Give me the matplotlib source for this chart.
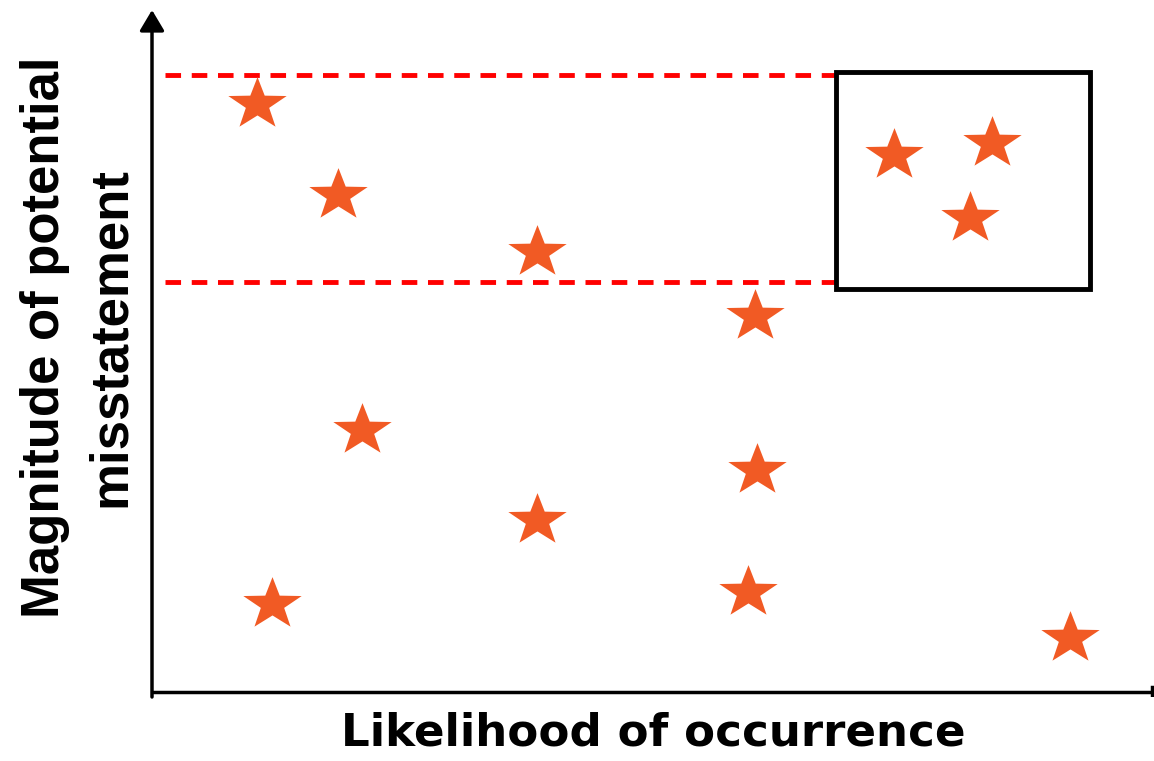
import matplotlib.pyplot as plt
from matplotlib.patches import Rectangle
from matplotlib.path import Path
from matplotlib import font_manager as fm

plt.rcParams['font.family'] = ['Liberation Sans', 'DejaVu Sans']

# data (abstract units: likelihood on x, magnitude on y)
likelihood = [105, 186, 385, 603, 210, 605, 385, 120, 596, 918, 742, 840, 818]
magnitude = [593, 502, 445, 381, 267, 227, 177, 93, 105, 59, 542, 554, 479]
band_low, band_high = 415, 622
box_x0, box_x1 = 684, 938
box_y0, box_y1 = 408, 625

names = {f.name for f in fm.fontManager.ttflist}
narrow = 'Liberation Sans Narrow' in names

W, H = 1154, 761
fig = plt.figure(figsize=(W / 100, H / 100), dpi=100)
left, bottom = 152 / W, (H - 697) / H
ax = fig.add_axes([left, bottom, 1 - left, 697 / H])
ax.set_xlim(0, W - 152)
ax.set_ylim(0, 697)
ax.axis('off')

# axes with arrows
ax.annotate('', xy=(0, 687), xytext=(0, 0),
            arrowprops=dict(arrowstyle='-|>,head_length=0.42,head_width=0.25',
                            color='black', lw=2.5,
                            mutation_scale=30, shrinkA=0, shrinkB=0))
ax.plot([0, 1002], [5, 5], color='black', lw=2.5, solid_capstyle='butt')
ax.plot([1000, 1000], [0, 10], color='black', lw=2.5)

# dashed red lines
for yv in (band_low, band_high):
    ax.plot([13, box_x0], [yv, yv], color='#FF0000', lw=3.5, ls=(0, (3.2, 2.2)))

# rectangle
ax.add_patch(Rectangle((box_x0, box_y0), box_x1 - box_x0, box_y1 - box_y0,
                       fill=False, edgecolor='black', lw=3.5, zorder=3))

# horizontally widened star marker
star = Path.unit_regular_star(5, 0.40)
verts = star.vertices.copy()
verts[:, 0] *= 1.12
star_marker = Path(verts, star.codes)

ax.plot(likelihood, magnitude, ls='none', marker=star_marker, ms=42,
        color='#F15A24', markeredgewidth=0, zorder=4)

fig.text(653 / W, 1 - 733 / H, 'Likelihood of occurrence', ha='center', va='center',
         fontsize=32.5, fontweight='bold', family=['DejaVu Sans'])
if narrow:
    fig.text(78 / W, 1 - 337 / H, 'Magnitude of potential\nmisstatement', ha='center',
             va='center', rotation=90, fontsize=46, fontweight='bold',
             family=['Liberation Sans Narrow'], linespacing=1.46)
else:
    fig.text(78 / W, 1 - 337 / H, 'Magnitude of potential\nmisstatement', ha='center',
             va='center', rotation=90, fontsize=38, fontweight='bold', linespacing=1.4)

fig.savefig('out.png', dpi=100)
